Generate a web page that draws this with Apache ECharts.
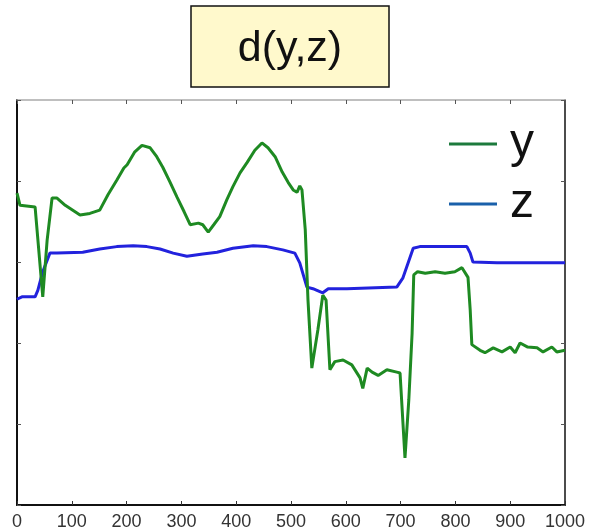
<!DOCTYPE html>
<html>
<head>
<meta charset="utf-8">
<script src="https://cdn.jsdelivr.net/npm/echarts@6/dist/echarts.min.js"></script>
<style>html,body{margin:0;padding:0;background:#fff}#c{width:594px;height:532px}</style>
</head>
<body>
<div id="c"></div>
<script>
const titleText = 'd(y,z)';
const seriesNames = ['y', 'z'];
const yX = [0,5.5,33,36.5,47,55,64,73,88,115,133,151,166,182,195,201,215,228,243,255,266,279,292,305,316,331,339,349,359,370,383,394,407,420,434,447,458,471,484,495,504,511,516,520,526,531,538,549,558,564,571,580,595,611,626,631,639,648,659,675,693,699,708,715,721,724,731,745,763,781,799,812,823,827,830,845,854,869,885,900,909,918,932,949,960,976,985,1000];
const yVals = [3.85,3.70,3.68,3.68,2.57,3.27,3.79,3.79,3.70,3.58,3.60,3.64,3.83,4.01,4.16,4.20,4.36,4.44,4.41,4.30,4.17,3.99,3.80,3.62,3.46,3.48,3.46,3.37,3.46,3.56,3.77,3.93,4.10,4.23,4.38,4.47,4.41,4.30,4.11,3.98,3.89,3.86,3.94,3.89,3.40,2.53,1.69,2.16,2.59,2.53,1.67,1.77,1.79,1.73,1.57,1.44,1.69,1.64,1.60,1.67,1.64,1.63,0.58,1.30,2.12,2.84,2.88,2.86,2.88,2.86,2.88,2.93,2.81,2.41,1.98,1.91,1.88,1.94,1.89,1.95,1.88,2.00,1.95,1.94,1.89,1.95,1.89,1.91];
const zX = [0,9,33,38,47,60,73,120,151,182,212,237,261,285,310,339,365,394,431,456,485,507,516,529,540,558,568,602,693,704,723,735,821,827,832,876,996,1000];
const zVals = [2.54,2.57,2.57,2.65,2.88,3.11,3.11,3.12,3.16,3.19,3.20,3.19,3.16,3.11,3.07,3.10,3.12,3.17,3.20,3.19,3.15,3.11,2.99,2.69,2.67,2.62,2.67,2.67,2.69,2.80,3.17,3.19,3.19,3.11,3.00,2.99,2.99,2.99];
const xTickLabels = ['0','100','200','300','400','500','600','700','800','900','1000'];

const pairs = (xs, vs) => xs.map((x, i) => [x, vs[i]]);
const chart = echarts.init(document.getElementById('c'), null, {renderer: 'canvas'});
const font = 'Liberation Sans, Arial, Helvetica, sans-serif';
chart.setOption({
  animation: false,
  backgroundColor: '#fff',
  grid: {left: 17, right: 29, top: 100, bottom: 27},
  graphic: [
    {type: 'rect', shape: {x: 191, y: 6, width: 198, height: 81}, style: {fill: '#fff9cc', stroke: '#111', lineWidth: 1.5}, z: 10},
    {type: 'text', x: 290, y: 49, style: {text: titleText, fontSize: 43, fontFamily: font, fill: '#111', align: 'center', verticalAlign: 'middle'}, z: 11}
  ],
  legend: {
    orient: 'vertical', left: 444, top: 115, icon: 'rect', itemWidth: 48, itemHeight: 3, itemGap: 12,
    textStyle: {fontSize: 48, lineHeight: 46, fontFamily: font, color: '#111', padding: [0, 0, 0, 8]},
    data: [
      {name: seriesNames[0], itemStyle: {color: '#1c7a3c'}},
      {name: seriesNames[1], itemStyle: {color: '#1a60aa'}}
    ]
  },
  xAxis: [
    {type: 'value', min: 0, max: 1000, interval: 100, position: 'bottom',
     axisLine: {onZero: false, lineStyle: {color: '#111', width: 2}},
     axisTick: {inside: true, length: 4, lineStyle: {color: '#333'}},
     splitLine: {show: false},
     axisLabel: {margin: 8, fontSize: 18, fontFamily: font, color: '#333', formatter: (v) => xTickLabels[Math.round(v / 100)]}},
    {type: 'value', min: 0, max: 1000, interval: 100, position: 'top',
     axisLine: {onZero: false, lineStyle: {color: '#aaa', width: 1.5}},
     axisTick: {inside: true, length: 4, lineStyle: {color: '#555'}},
     splitLine: {show: false}, axisLabel: {show: false}}
  ],
  yAxis: [
    {type: 'value', min: 0, max: 5, interval: 1, position: 'left',
     axisLine: {show: true, onZero: false, lineStyle: {color: '#111', width: 2}},
     axisTick: {show: true, inside: true, length: 4, lineStyle: {color: '#555'}},
     splitLine: {show: false}, axisLabel: {show: false}},
    {type: 'value', min: 0, max: 5, interval: 1, position: 'right',
     axisLine: {show: true, onZero: false, lineStyle: {color: '#111', width: 1.5}},
     axisTick: {show: true, inside: true, length: 4, lineStyle: {color: '#555'}},
     splitLine: {show: false}, axisLabel: {show: false}}
  ],
  series: [
    {name: seriesNames[0], type: 'line', data: pairs(yX, yVals), showSymbol: false, symbol: 'none',
     lineStyle: {color: '#1e8a22', width: 3}, itemStyle: {color: '#1e8a22'}, z: 3},
    {name: seriesNames[1], type: 'line', data: pairs(zX, zVals), showSymbol: false, symbol: 'none',
     lineStyle: {color: '#2222dd', width: 3}, itemStyle: {color: '#2222dd'}, z: 2}
  ]
});
</script>
</body>
</html>
